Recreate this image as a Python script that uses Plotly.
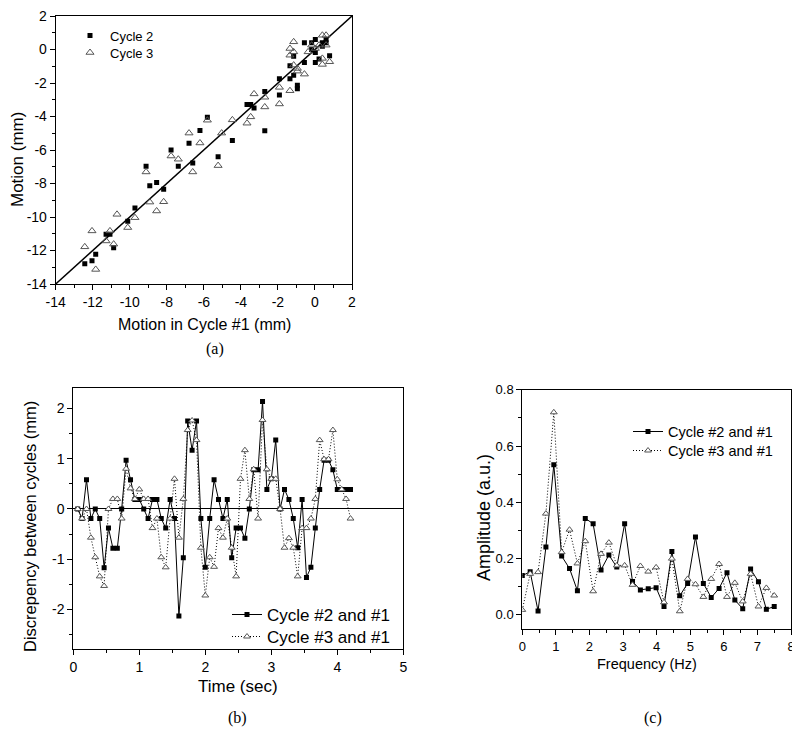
import plotly.graph_objects as go

# ---------------- Panel (a): motion correlation ----------------
A_C2_X = [-12.43, -12.04, -11.84, -11.28, -11.07, -10.87, -10.11, -9.72, -9.12, -8.92,
          -8.55, -8.17, -7.77, -7.38, -6.80, -6.60, -6.21, -5.81, -5.23, -4.46,
          -3.67, -3.47, -3.29, -2.71, -2.71, -1.92, -1.92, -1.35, -1.35, -1.15,
          -1.15, -0.95, -0.95, -0.57, -0.57, -0.18, 0.02, 0.02, 0.22, 0.40,
          0.60, 0.79, -0.18, 0.40, 0.60, 0.02]
A_C2_Y = [-12.79, -12.61, -12.22, -11.03, -11.03, -11.84, -10.26, -9.47, -6.97, -8.14,
          -7.94, -8.34, -6.00, -6.97, -5.60, -6.77, -4.83, -4.04, -6.40, -5.43,
          -3.29, -3.29, -3.49, -2.51, -4.85, -1.74, -2.71, -0.97, -1.74, -1.54,
          -0.40, -2.14, -2.34, -0.77, 0.40, 0.40, 0.59, -0.77, -0.57, 0.40,
          0.59, -0.38, 0.00, 0.20, 0.40, -0.18]
A_C3_X = [-12.43, -12.04, -11.84, -11.28, -11.07, -10.87, -10.69, -10.11, -9.72, -9.12,
          -8.92, -8.55, -8.17, -7.77, -7.38, -6.80, -6.60, -6.21, -5.81, -5.23,
          -5.04, -4.46, -3.67, -3.47, -3.29, -2.71, -2.71, -1.92, -1.92, -1.35,
          -1.35, -1.15, -1.15, -0.95, -0.95, -0.57, -0.37, -0.18, 0.02, 0.22,
          0.40, 0.40, 0.40, 0.60, 0.60, 0.79, -1.35, -1.15]
A_C3_Y = [-11.78, -10.83, -13.13, -11.43, -10.83, -11.62, -9.84, -10.63, -10.04, -7.31,
          -9.11, -9.64, -9.09, -6.36, -6.55, -4.99, -7.31, -5.58, -4.22, -6.93,
          -4.99, -4.20, -4.40, -4.02, -2.65, -2.85, -3.43, -2.26, -3.25, -2.46,
          0.06, 0.46, -0.14, -1.13, -1.29, -1.47, -0.14, 0.26, 0.06, 0.26,
          0.85, -0.53, -0.89, 0.85, 0.26, -0.73, -0.34, -0.93]
A_DIAG = [-14, 2]
A_TICKS = [-14, -12, -10, -8, -6, -4, -2, 0, 2]
A_TICKTEXT = ["-14", "-12", "-10", "-8", "-6", "-4", "-2", "0", "2"]

# ---------------- Panel (b): discrepancy vs time ----------------
B_TIME = [0.067, 0.133, 0.2, 0.267, 0.333, 0.4, 0.467, 0.533, 0.6, 0.667,
          0.733, 0.8, 0.867, 0.933, 1.0, 1.067, 1.133, 1.2, 1.267, 1.333,
          1.4, 1.467, 1.533, 1.6, 1.667, 1.733, 1.8, 1.867, 1.933, 2.0,
          2.067, 2.133, 2.2, 2.267, 2.333, 2.4, 2.467, 2.533, 2.6, 2.667,
          2.733, 2.8, 2.867, 2.933, 3.0, 3.067, 3.133, 3.2, 3.267, 3.333,
          3.4, 3.467, 3.533, 3.6, 3.667, 3.733, 3.8, 3.867, 3.933, 4.0,
          4.067, 4.133, 4.2]
B_C2 = [0.0, -0.19, 0.58, -0.19, 0.0, -0.19, -1.17, -0.38, -0.78, -0.78,
        0.0, 0.97, 0.58, 0.19, 0.19, 0.0, -0.19, 0.19, 0.19, -0.19,
        -0.38, 0.19, -0.19, -2.13, -0.97, 1.75, 1.17, 1.75, -0.19, -1.16,
        -0.19, 0.58, 0.19, -0.19, 0.19, -0.97, -0.38, -0.38, -0.58, 0.0,
        0.78, 0.78, 2.14, 0.39, 0.60, 1.37, 0.0, 0.39, 0.19, -0.19,
        -0.77, 0.19, -1.36, -1.16, -0.38, 0.39, 0.97, 0.97, 0.78, 0.39,
        0.39, 0.39, 0.39]
B_C3 = [0.0, -0.19, 0.0, -0.57, -0.96, -1.34, -1.53, 0.0, 0.2, 0.2,
        -0.19, 0.8, 0.41, 0.2, 0.39, 0.2, 0.2, -0.38, -0.19, -0.96,
        -1.16, -0.19, 0.6, -0.57, 0.2, 1.57, 1.76, 1.37, -0.77, -1.72,
        -0.96, -1.15, -0.38, -0.57, -0.19, -0.77, -1.34, 0.6, 1.17, 0.2,
        0.79, -0.19, 1.77, 0.79, 0.6, 0.6, 0.0, -0.77, -0.58, -0.77,
        -1.34, -0.38, -0.38, -0.19, 0.2, 1.37, 0.99, 0.99, 1.57, 0.59,
        0.39, 0.2, -0.19]
B_XTICKS = [0, 1, 2, 3, 4, 5]
B_YTICKS = [-2, -1, 0, 1, 2]
B_YTICKTEXT = ["-2", "-1", "0", "1", "2"]

# ---------------- Panel (c): spectrum ----------------
C_FREQ = [0.0, 0.234, 0.469, 0.703, 0.938, 1.172, 1.406, 1.641, 1.875, 2.109,
          2.344, 2.578, 2.813, 3.047, 3.281, 3.516, 3.75, 3.984, 4.219, 4.453,
          4.688, 4.922, 5.156, 5.391, 5.625, 5.859, 6.094, 6.328, 6.563, 6.797,
          7.031, 7.266, 7.5]
C_C2 = [0.14, 0.153, 0.014, 0.241, 0.534, 0.209, 0.165, 0.086, 0.343, 0.324,
        0.16, 0.213, 0.17, 0.324, 0.119, 0.089, 0.093, 0.097, 0.03, 0.225,
        0.068, 0.112, 0.277, 0.112, 0.062, 0.094, 0.15, 0.053, 0.022, 0.163,
        0.118, 0.02, 0.03]
C_C3 = [0.018, 0.146, 0.152, 0.36, 0.72, 0.223, 0.303, 0.183, 0.262, 0.084,
        0.217, 0.257, 0.176, 0.176, 0.107, 0.174, 0.154, 0.169, 0.045, 0.2,
        0.013, 0.128, 0.109, 0.064, 0.128, 0.181, 0.064, 0.114, 0.048, 0.146,
        0.03, 0.096, 0.069]
C_XTICKS = [0, 1, 2, 3, 4, 5, 6, 7, 8]
C_YTICKS = [0.0, 0.2, 0.4, 0.6, 0.8]
C_YTICKTEXT = ["0.0", "0.2", "0.4", "0.6", "0.8"]

SANS = "Liberation Sans, Arial, sans-serif"
SERIF = "Liberation Serif, Times New Roman, serif"
W, H = 800, 746
OFF = 8  # page body margin of the browser
DOT = "1px,2px"


def px_x(p):
    return (p - OFF) / W


def px_y(p):
    return 1 - (p - OFF) / H


fig = go.Figure()

# (a)
fig.add_trace(go.Scatter(x=A_DIAG, y=A_DIAG, mode="lines", line=dict(color="black", width=1.5),
                         showlegend=False, xaxis="x", yaxis="y", hoverinfo="skip"))
fig.add_trace(go.Scatter(x=A_C2_X, y=A_C2_Y, mode="markers", name="Cycle 2",
                         marker=dict(symbol="square", size=5, color="black"),
                         xaxis="x", yaxis="y", legend="legend"))
fig.add_trace(go.Scatter(x=A_C3_X, y=A_C3_Y, mode="markers", name="Cycle 3",
                         marker=dict(symbol="triangle-up-open", size=7, color="#555555",
                                     line=dict(width=1, color="#555555")),
                         xaxis="x", yaxis="y", legend="legend2"))

# (b)
fig.add_trace(go.Scatter(x=B_TIME, y=B_C2, mode="lines+markers", name="Cycle #2 and #1",
                         line=dict(color="black", width=1),
                         marker=dict(symbol="square", size=5, color="black"),
                         xaxis="x2", yaxis="y2", legend="legend3"))
fig.add_trace(go.Scatter(x=B_TIME, y=B_C3, mode="lines+markers", name="Cycle #3 and #1",
                         line=dict(color="black", width=1, dash=DOT),
                         marker=dict(symbol="triangle-up", size=6, color="white",
                                     line=dict(width=1, color="#555555")),
                         xaxis="x2", yaxis="y2", legend="legend4"))

# (c)
fig.add_trace(go.Scatter(x=C_FREQ, y=C_C2, mode="lines+markers", name="Cycle #2 and #1",
                         line=dict(color="black", width=1),
                         marker=dict(symbol="square", size=5, color="black"),
                         xaxis="x3", yaxis="y3", legend="legend5"))
fig.add_trace(go.Scatter(x=C_FREQ, y=C_C3, mode="lines+markers", name="Cycle #3 and #1",
                         line=dict(color="black", width=1, dash=DOT),
                         marker=dict(symbol="triangle-up", size=6, color="white",
                                     line=dict(width=1, color="#555555")),
                         xaxis="x3", yaxis="y3", legend="legend6"))


def axis(domain, rng, tickvals, ticktext, minor_dtick, anchor, tick_size, zeroline=False):
    return dict(domain=domain, range=rng, anchor=anchor, automargin=False,
                tickmode="array", tickvals=tickvals, ticktext=ticktext,
                ticklabeloverflow="allow",
                ticks="outside", ticklen=5, tickwidth=1, tickcolor="black",
                minor=dict(ticks="outside", ticklen=3, tickwidth=1, tickcolor="black",
                           tickmode="linear", tick0=0, dtick=minor_dtick, showgrid=False),
                showline=True, linecolor="black", linewidth=1, mirror=True,
                showgrid=False, zeroline=zeroline, zerolinecolor="black", zerolinewidth=1,
                tickfont=dict(family=SANS, size=tick_size, color="black"))


def legend(text_x, row_y, size):
    # text_x: screen x where the entry text starts; row_y: screen y of the row centre
    top = row_y - (0.65 * size + 7)
    return dict(x=px_x(text_x - 40), y=px_y(top), xanchor="left", yanchor="top",
                bgcolor="rgba(0,0,0,0)", borderwidth=0,
                font=dict(family=SANS, size=size, color="black"))


fig.update_layout(
    width=W, height=H,
    margin=dict(l=0, r=0, t=0, b=0, pad=0, autoexpand=False),
    paper_bgcolor="white", plot_bgcolor="white",
    font=dict(family=SANS, color="black"),
    xaxis=axis([px_x(55.7), px_x(352)], [-14, 2], A_TICKS, A_TICKTEXT, 1, "y", 14),
    yaxis=axis([px_y(284), px_y(16)], [-14, 2], A_TICKS, A_TICKTEXT, 1, "x", 14),
    xaxis2=axis([px_x(73.3), px_x(403.3)], [0, 5], B_XTICKS, [str(v) for v in B_XTICKS], 0.5, "y2", 14),
    yaxis2=axis([px_y(649.3), px_y(388.3)], [-2.79, 2.4], B_YTICKS, B_YTICKTEXT, 0.5, "x2", 14,
                zeroline=True),
    xaxis3=axis([px_x(522.3), px_x(791)], [0, 8], C_XTICKS, [str(v) for v in C_XTICKS], 0.5, "y3", 13),
    yaxis3=axis([px_y(629), px_y(389.8)], [-0.05, 0.8], C_YTICKS, C_YTICKTEXT, 0.1, "x3", 13),
    legend=legend(110, 36, 13),
    legend2=legend(110, 53, 13),
    legend3=legend(267, 615, 17),
    legend4=legend(267, 637, 17),
    legend5=legend(668, 432, 14.5),
    legend6=legend(668, 451, 14.5),
)

ann = [
    ("Motion (mm)", 17, 160, -90, 17, SANS),
    ("Motion in Cycle #1 (mm)", 204, 325, 0, 16, SANS),
    ("(a)", 215, 349, 0, 16, SERIF),
    ("Discrepency between cycles (mm)", 30, 527, -90, 16.5, SANS),
    ("Time (sec)", 238, 686, 0, 17, SANS),
    ("(b)", 238, 718, 0, 16, SERIF),
    ("Amplitude (a.u.)", 484, 518, -90, 18, SANS),
    ("Frequency (Hz)", 647, 664, 0, 14.5, SANS),
    ("(c)", 653, 718, 0, 16, SERIF),
]
for text, x, y, ang, size, fam in ann:
    fig.add_annotation(text=text, xref="paper", yref="paper", x=px_x(x), y=px_y(y),
                       xanchor="center", yanchor="middle", showarrow=False, textangle=ang,
                       font=dict(family=fam, size=size, color="black"))

fig.write_html("out.html")
